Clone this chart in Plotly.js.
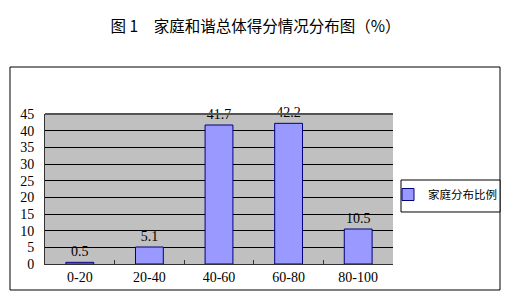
<!DOCTYPE html>
<html>
<head>
<meta charset="utf-8">
<script src="https://cdn.plot.ly/plotly-3.0.1.min.js"></script>
<style>html,body{margin:0;padding:0;background:#fff;}#chart{width:506px;height:304px;}</style>
</head>
<body>
<div id="chart"></div>
<script>
var categories = ["0-20", "20-40", "40-60", "60-80", "80-100"];
var values = [0.5, 5.1, 41.7, 42.2, 10.5];
var valueLabels = ["0.5", "5.1", "41.7", "42.2", "10.5"];
var seriesName = "家庭分布比例";
var yTicks = [0, 5, 10, 15, 20, 25, 30, 35, 40, 45];
var chartTitle = "图 1　家庭和谐总体得分情况分布图（%）";

var cjk = '"Noto Sans CJK SC", "Noto Sans", sans-serif';
var num = '"Liberation Serif", "DejaVu Serif", serif';

var trace = {
  type: "bar",
  x: categories,
  y: values,
  name: seriesName,
  text: valueLabels,
  textposition: "outside",
  cliponaxis: false,
  textfont: {family: num, size: 14, color: "#000"},
  width: 0.4,
  marker: {color: "#9999ff", line: {color: "#000080", width: 1}},
  showlegend: true,
  hoverinfo: "none"
};

var layout = {
  width: 506, height: 304,
  margin: {l: 45, r: 113, t: 114, b: 40, pad: 0, autoexpand: false},
  paper_bgcolor: "#ffffff",
  plot_bgcolor: "#c0c0c0",
  title: {text: chartTitle, font: {family: cjk, size: 15.5, color: "#000"},
          x: 0.505, xanchor: "center", y: 0.911, yanchor: "middle"},
  xaxis: {
    type: "category",
    tickson: "boundaries",
    ticks: "inside", ticklen: 4, tickcolor: "#333",
    showline: true, linecolor: "#333", linewidth: 1,
    showgrid: false, zeroline: false,
    tickfont: {family: num, size: 14, color: "#000"},
    ticklabelstandoff: 0
  },
  yaxis: {
    range: [0, 45],
    tickvals: yTicks,
    ticktext: yTicks.map(String),
    ticks: "",
    showline: true, linecolor: "#333", linewidth: 1,
    showgrid: true, gridcolor: "#000", gridwidth: 1,
    zeroline: false,
    tickfont: {family: num, size: 14, color: "#000"},
    ticklabelstandoff: 7
  },
  legend: {
    x: 1.0, y: 0.56, xanchor: "left", yanchor: "top",
    bgcolor: "rgba(0,0,0,0)", borderwidth: 0,
    font: {family: cjk, size: 11.5, color: "#000"},
    itemwidth: 30,
    indentation: -5
  },
  shapes: [
    {type: "rect", xref: "paper", yref: "paper", x0: -0.1006, x1: 1.3075, y0: -0.1733, y1: 1.3133,
     line: {color: "#000", width: 1}, fillcolor: "rgba(0,0,0,0)", layer: "above"},
    {type: "rect", xref: "paper", yref: "paper", x0: 1.0230, x1: 1.3075, y0: 0.3467, y1: 0.56,
     line: {color: "#000", width: 1}, fillcolor: "#ffffff", layer: "above"},
    {type: "line", xref: "paper", yref: "paper", x0: 0, x1: 1, y0: 1, y1: 1,
     line: {color: "#555", width: 2}, layer: "above"}
  ],
  showlegend: true
};

Plotly.newPlot("chart", [trace], layout, {displayModeBar: false, staticPlot: true});
</script>
</body>
</html>
